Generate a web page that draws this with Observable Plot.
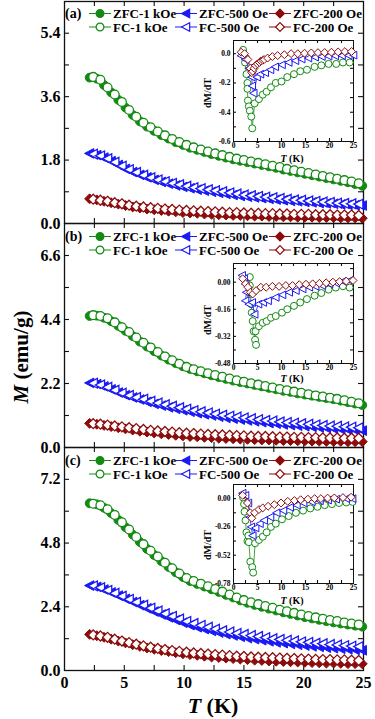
<!DOCTYPE html>
<html><head><meta charset="utf-8">
<script src="https://cdn.jsdelivr.net/npm/d3@7"></script>
<script src="https://cdn.jsdelivr.net/npm/@observablehq/plot@0.6"></script>
<style>
body{margin:0;background:#fff;}
#chart{position:relative;width:375px;height:719px;overflow:hidden;font-family:"Liberation Serif","Times New Roman",serif;font-weight:bold;color:#000;}
#chart > *{position:absolute;}
</style></head><body><div id="chart"></div>
<script>
// ---------- main-panel temperatures (K) ----------
const T_FC  = [2.4,3.0,3.6,4.2,4.8,5.4,6.0,6.6,7.2,7.8,8.4,9.0,9.6,10.2,10.8,11.4,12.0,12.6,13.2,13.8,14.4,15.0,15.6,16.2,16.8,17.4,18.0,18.6,19.2,19.8,20.4,21.0,21.6,22.2,22.8,23.4,24.0,24.6];
const T_ZFC = [2.1,2.7,3.3,3.9,4.5,5.1,5.7,6.3,6.9,7.5,8.1,8.7,9.3,9.9,10.5,11.1,11.7,12.3,12.9,13.5,14.1,14.7,15.3,15.9,16.5,17.1,17.7,18.3,18.9,19.5,20.1,20.7,21.3,21.9,22.5,23.1,23.7,24.3,24.9];

// ---------- panel (a) M (emu/g) ----------
const a_ZFC_1k  = [4.14,4.11,3.93,3.72,3.51,3.29,3.08,2.90,2.75,2.63,2.51,2.41,2.31,2.23,2.15,2.09,2.03,1.97,1.92,1.87,1.82,1.78,1.74,1.70,1.66,1.62,1.58,1.53,1.49,1.45,1.41,1.37,1.33,1.29,1.25,1.21,1.17,1.12,1.07];
const a_FC_1k   = [4.16,4.08,3.86,3.66,3.45,3.22,3.03,2.86,2.73,2.61,2.50,2.40,2.31,2.23,2.16,2.10,2.04,1.99,1.94,1.89,1.84,1.80,1.76,1.72,1.68,1.64,1.60,1.55,1.51,1.47,1.43,1.39,1.35,1.31,1.27,1.23,1.19,1.14];
const a_ZFC_500 = [1.99,1.94,1.87,1.77,1.66,1.55,1.46,1.38,1.31,1.24,1.18,1.13,1.08,1.04,1.00,0.96,0.93,0.90,0.87,0.84,0.81,0.78,0.76,0.74,0.72,0.70,0.68,0.66,0.64,0.63,0.61,0.60,0.58,0.57,0.56,0.54,0.53,0.52,0.51];
const a_FC_500  = [1.97,1.92,1.84,1.74,1.63,1.53,1.45,1.37,1.30,1.24,1.19,1.14,1.10,1.06,1.02,0.99,0.96,0.93,0.90,0.87,0.84,0.81,0.79,0.77,0.75,0.73,0.71,0.69,0.67,0.66,0.64,0.63,0.61,0.60,0.58,0.57,0.56,0.55];
const a_ZFC_200 = [0.70,0.67,0.63,0.59,0.55,0.51,0.47,0.44,0.41,0.39,0.37,0.35,0.33,0.31,0.30,0.29,0.27,0.26,0.25,0.24,0.23,0.23,0.22,0.21,0.21,0.20,0.20,0.19,0.19,0.18,0.18,0.18,0.17,0.17,0.17,0.16,0.16,0.16,0.15];
const a_FC_200  = [0.69,0.66,0.63,0.59,0.56,0.52,0.49,0.47,0.45,0.43,0.41,0.40,0.38,0.37,0.36,0.35,0.34,0.33,0.32,0.31,0.31,0.30,0.29,0.29,0.28,0.28,0.27,0.27,0.26,0.26,0.26,0.25,0.25,0.25,0.24,0.24,0.24,0.23];

// ---------- panel (b) ----------
const b_ZFC_1k  = [4.52,4.53,4.46,4.34,4.18,4.01,3.83,3.64,3.47,3.31,3.16,3.02,2.90,2.79,2.70,2.62,2.55,2.48,2.42,2.36,2.30,2.25,2.20,2.15,2.10,2.05,2.00,1.95,1.91,1.86,1.82,1.78,1.74,1.70,1.66,1.61,1.56,1.51,1.46];
const b_FC_1k   = [4.55,4.52,4.44,4.30,4.13,3.97,3.78,3.60,3.44,3.28,3.13,3.00,2.88,2.77,2.69,2.62,2.55,2.49,2.43,2.37,2.31,2.26,2.21,2.16,2.11,2.06,2.01,1.97,1.92,1.88,1.83,1.79,1.75,1.71,1.67,1.62,1.57,1.52];
const b_ZFC_500 = [2.22,2.18,2.10,2.00,1.89,1.80,1.72,1.65,1.57,1.50,1.44,1.38,1.33,1.28,1.23,1.18,1.14,1.10,1.06,1.02,0.99,0.96,0.93,0.90,0.87,0.84,0.82,0.79,0.77,0.75,0.73,0.71,0.69,0.67,0.65,0.63,0.61,0.60,0.58];
const b_FC_500  = [2.21,2.15,2.07,1.97,1.87,1.79,1.72,1.66,1.59,1.53,1.47,1.42,1.37,1.32,1.27,1.23,1.19,1.15,1.11,1.08,1.05,1.02,0.99,0.96,0.93,0.91,0.88,0.86,0.84,0.82,0.80,0.78,0.76,0.74,0.73,0.71,0.70,0.68];
const b_ZFC_200 = [0.83,0.80,0.76,0.72,0.68,0.64,0.60,0.56,0.53,0.50,0.47,0.45,0.42,0.40,0.38,0.37,0.35,0.34,0.32,0.31,0.30,0.29,0.28,0.27,0.26,0.26,0.25,0.24,0.24,0.23,0.23,0.22,0.22,0.21,0.21,0.21,0.20,0.20,0.20];
const b_FC_200  = [0.82,0.80,0.77,0.74,0.71,0.68,0.65,0.62,0.59,0.57,0.55,0.53,0.51,0.49,0.48,0.46,0.45,0.44,0.43,0.42,0.41,0.40,0.39,0.38,0.38,0.37,0.36,0.36,0.35,0.35,0.34,0.34,0.33,0.33,0.33,0.32,0.32,0.32];

// ---------- panel (c) ----------
const c_ZFC_1k  = [6.30,6.26,6.13,5.93,5.67,5.40,5.12,4.84,4.58,4.35,4.12,3.90,3.70,3.52,3.37,3.26,3.16,3.06,2.96,2.85,2.75,2.64,2.55,2.47,2.40,2.33,2.26,2.19,2.13,2.07,2.01,1.96,1.91,1.86,1.81,1.77,1.73,1.69,1.65];
const c_FC_1k   = [6.28,6.22,6.07,5.86,5.58,5.31,5.03,4.76,4.51,4.29,4.06,3.85,3.65,3.48,3.37,3.27,3.17,3.07,2.97,2.86,2.75,2.65,2.57,2.50,2.43,2.36,2.29,2.23,2.17,2.11,2.05,2.00,1.95,1.90,1.86,1.81,1.77,1.73];
const c_ZFC_500 = [3.20,3.15,3.05,2.94,2.82,2.70,2.58,2.46,2.34,2.22,2.11,2.00,1.90,1.80,1.71,1.63,1.56,1.49,1.43,1.37,1.32,1.27,1.22,1.18,1.14,1.10,1.06,1.03,1.00,0.97,0.94,0.91,0.89,0.86,0.84,0.82,0.80,0.78,0.76];
const c_FC_500  = [3.19,3.12,3.02,2.91,2.80,2.68,2.57,2.46,2.35,2.24,2.14,2.04,1.94,1.85,1.77,1.70,1.63,1.56,1.50,1.45,1.40,1.36,1.32,1.28,1.24,1.20,1.17,1.14,1.11,1.08,1.06,1.03,1.01,0.98,0.96,0.94,0.92,0.90];
const c_ZFC_200 = [1.36,1.31,1.25,1.18,1.11,1.04,0.97,0.91,0.85,0.80,0.75,0.71,0.67,0.63,0.60,0.57,0.54,0.51,0.49,0.47,0.45,0.43,0.41,0.39,0.38,0.36,0.35,0.34,0.33,0.32,0.31,0.30,0.29,0.28,0.28,0.27,0.26,0.26,0.25];
const c_FC_200  = [1.34,1.30,1.25,1.18,1.11,1.05,0.99,0.93,0.88,0.83,0.79,0.75,0.72,0.69,0.66,0.64,0.62,0.60,0.58,0.56,0.54,0.53,0.51,0.50,0.49,0.48,0.47,0.46,0.45,0.44,0.43,0.42,0.41,0.41,0.40,0.40,0.39,0.38];

// ---------- insets dM/dT ----------
const ins_a_T_1k  = [2.0,2.3,2.4,2.7,2.9,2.9,3.0,3.2,3.4,3.7,3.9,4.4,5.3,6.1,6.9,7.8,8.8,10.0,11.2,12.6,13.9,15.3,16.9,18.3,19.8,21.4,22.8,24.2];
const ins_a_1k    = [0.026,-0.02,-0.06,-0.14,-0.20,-0.24,-0.32,-0.36,-0.39,-0.43,-0.51,-0.34,-0.31,-0.28,-0.26,-0.23,-0.20,-0.19,-0.16,-0.14,-0.12,-0.11,-0.09,-0.08,-0.07,-0.07,-0.06,-0.06];
const ins_a_T_500 = [1.6,2.5,3.2,3.8,3.9,4.2,4.9,5.6,6.6,7.7,8.7,10.1,11.5,12.9,14.2,15.6,17.0,18.4,19.8,21.2,22.6,24.0,25.0];
const ins_a_500   = [-0.014,-0.04,-0.10,-0.16,-0.22,-0.27,-0.16,-0.14,-0.13,-0.11,-0.09,-0.076,-0.06,-0.048,-0.037,-0.03,-0.024,-0.02,-0.017,-0.015,-0.013,-0.012,-0.01];
const ins_a_T_200 = [1.6,2.3,3.0,3.5,3.8,4.0,4.3,4.6,5.0,5.4,5.7,6.1,6.4,7.1,8.1,9.2,10.6,12.0,13.4,14.8,16.2,17.6,19.0,20.4,21.8,23.2,24.6];
const ins_a_200   = [0.01,0.0,-0.04,-0.10,-0.13,-0.12,-0.10,-0.08,-0.07,-0.06,-0.05,-0.045,-0.04,-0.03,-0.02,-0.013,-0.007,0.0,0.0,0.003,0.005,0.007,0.008,0.01,0.012,0.014,0.015];

const ins_b_T_1k  = [3.4,3.4,3.5,3.7,3.8,4.0,4.2,4.5,4.7,4.6,5.3,6.1,6.9,7.8,8.8,10.1,11.2,12.6,13.9,15.3,16.9,18.3,19.8,21.3,22.8,24.2];
const ins_b_1k    = [0.03,-0.02,-0.07,-0.13,-0.18,-0.23,-0.29,-0.34,-0.37,-0.29,-0.26,-0.24,-0.23,-0.21,-0.20,-0.18,-0.16,-0.14,-0.12,-0.10,-0.08,-0.064,-0.044,-0.032,-0.024,-0.032];
const ins_b_T_500 = [1.8,2.2,2.5,2.7,2.5,3.2,3.9,4.4,5.2,6.2,7.2,8.8,10.2,11.6,13.0,14.4,15.8,17.1,18.5,20.0,21.4,22.8,24.2];
const ins_b_500   = [0.04,0.02,-0.01,-0.06,-0.11,-0.13,-0.12,-0.19,-0.13,-0.12,-0.11,-0.09,-0.075,-0.06,-0.05,-0.04,-0.03,-0.025,-0.02,-0.01,-0.005,0.005,0.01];
const ins_b_T_200 = [1.9,2.5,3.0,3.5,4.0,4.7,5.7,6.8,8.1,9.5,10.9,12.3,13.7,15.1,16.5,17.9,19.3,20.7,22.1,23.5,24.9];
const ins_b_200   = [0.02,-0.01,-0.03,-0.06,-0.07,-0.05,-0.03,-0.03,-0.025,-0.025,-0.02,-0.02,-0.015,-0.012,-0.01,-0.007,-0.004,0.0,0.003,0.006,0.01];

const ins_c_T_1k  = [2.0,2.2,2.3,2.5,2.7,2.9,3.1,3.2,3.5,3.9,4.1,4.5,5.3,6.1,6.9,7.8,8.8,10.1,11.5,13.0,14.5,16.0,17.5,19.0,20.5,22.0,23.5,24.8];
const ins_c_1k    = [0.01,-0.05,-0.12,-0.20,-0.31,-0.39,-0.34,-0.40,-0.58,-0.63,-0.68,-0.41,-0.38,-0.35,-0.31,-0.26,-0.23,-0.19,-0.16,-0.13,-0.11,-0.09,-0.075,-0.06,-0.05,-0.04,-0.035,-0.03];
const ins_c_T_500 = [1.9,2.5,3.1,3.4,3.7,4.0,4.6,5.5,6.4,7.7,9.0,10.4,11.8,13.2,14.6,16.3,18.0,19.7,21.4,23.5,24.8];
const ins_c_500   = [0.05,0.03,-0.04,-0.17,-0.26,-0.34,-0.27,-0.23,-0.20,-0.17,-0.13,-0.11,-0.08,-0.06,-0.04,-0.03,-0.02,-0.013,-0.005,0.0,0.0];
const ins_c_T_200 = [1.9,2.9,3.5,3.8,4.4,5.3,6.1,7.2,8.5,9.9,11.3,12.7,14.0,15.5,16.9,18.2,19.6,21.0,22.8,24.5];
const ins_c_200   = [0.03,-0.04,-0.13,-0.18,-0.13,-0.10,-0.085,-0.07,-0.055,-0.04,-0.025,-0.018,-0.01,-0.005,0.0,0.0,0.005,0.007,0.01,0.013];

// ---------- labels and ticks ----------
const panelTags  = ["(a)","(b)","(c)"];
const zfcLabels  = ["ZFC-1 kOe","ZFC-500 Oe","ZFC-200 Oe"];
const fcLabels   = ["FC-1 kOe","FC-500 Oe","FC-200 Oe"];
const yTicksA = [0,1.8,3.6,5.4], yTicksB = [0,2.2,4.4,6.6], yTicksC = [0,2.4,4.8,7.2];
const xTickLabels = [0,5,10,15,20,25];
const insTicksA = [-0.6,-0.4,-0.2,0], insTicksB = [-0.48,-0.32,-0.16,0], insTicksC = [-0.78,-0.52,-0.26,0];

const GREEN = "#148a14", BLUE = "#1a1af5", RED = "#8c0c0c";
const FONT = "'Liberation Serif','Times New Roman',serif";

// custom symbols
const symCircle = d3.symbolCircle;
const symTriLeft = {draw(ctx, size){ const r = Math.sqrt(size/Math.PI);
  ctx.moveTo(-1.15*r, 0); ctx.lineTo(0.95*r, -1.1*r); ctx.lineTo(0.95*r, 1.1*r); ctx.closePath(); }};
const symDiamond = {draw(ctx, size){ const r = Math.sqrt(size/Math.PI)*1.13;
  ctx.moveTo(0,-r); ctx.lineTo(r,0); ctx.lineTo(0,r); ctx.lineTo(-r,0); ctx.closePath(); }};
const SYMS = [symCircle, symTriLeft, symDiamond];
const COLORS = [GREEN, BLUE, RED];

const chart = document.getElementById("chart");
const rows = (T, v) => T.map((t, i) => ({T: t, M: v[i]}));

function tickMarks(xMax, yMin, yMax, yVals, plotW, plotH, len, xMin){
  const ly = len*(yMax-yMin)/plotH, lx = len*(xMax-xMin)/plotW;
  const xv = d3.range(1, 10).map(k => k*2.5);
  const o = {stroke:"#111", strokeWidth:1.1};
  return [
    Plot.ruleX(xv, {x:d=>d, y1:()=>yMin, y2:()=>yMin+ly, ...o}),
    Plot.ruleX(xv, {x:d=>d, y1:()=>yMax, y2:()=>yMax-ly, ...o}),
    Plot.ruleY(yVals, {y:d=>d, x1:()=>xMin, x2:()=>xMin+lx, ...o}),
    Plot.ruleY(yVals, {y:d=>d, x1:()=>xMax, x2:()=>xMax-lx, ...o})
  ];
}

function mainPanel({top, mTop, plotH, mBottom, yMax, yTicks, zfc, fc, showX}){
  const W = 375, mL = 64, mR = 12;
  const step = yTicks[1];
  const yVals = d3.range(1, Math.round(yMax/(step/2))).map(k => +(k*step/2).toFixed(3));
  const marks = [
    Plot.frame({stroke:"#111", strokeWidth:1.3}),
    ...tickMarks(25, 0, yMax, yVals, W-mL-mR, plotH, 5, 0),
    Plot.axisY(yTicks, {tickSize:0, tickPadding:4, tickFormat:d=>d.toFixed(1), label:null, fontSize:16})
  ];
  if (showX) marks.push(Plot.axisX(xTickLabels, {tickSize:0, tickPadding:6, tickFormat:d=>String(d), label:null, fontSize:16}));
  for (let k = 0; k < 3; k++){
    const z = rows(T_ZFC, zfc[k]), f = rows(T_FC, fc[k]);
    marks.push(
      Plot.line(z, {x:"T", y:"M", stroke:COLORS[k], strokeWidth:1}),
      Plot.dot(z, {x:"T", y:"M", symbol:SYMS[k], r:4.4, fill:COLORS[k], stroke:COLORS[k], strokeWidth:1}),
      Plot.line(f, {x:"T", y:"M", stroke:COLORS[k], strokeWidth:1}),
      Plot.dot(f, {x:"T", y:"M", symbol:SYMS[k], r:4.4, fill:"white", stroke:COLORS[k], strokeWidth:1.3})
    );
  }
  const svg = Plot.plot({
    width:W, height:mTop+plotH+mBottom, marginTop:mTop, marginBottom:mBottom, marginLeft:mL, marginRight:mR,
    x:{domain:[0,25], label:null, axis: showX ? undefined : null},
    y:{domain:[0,yMax], label:null},
    style:`background:transparent;font-family:${FONT};font-weight:bold;font-size:16px;color:#000;overflow:visible;`,
    marks
  });
  svg.style.left = "0px"; svg.style.top = top + "px";
  chart.append(svg);
}

function insetPanel({top, plotH, yDomain, yTicks, fmt, series}){
  const W = 152, mL = 28, mR = 4, mTop = 2, mBottom = 14;
  const step = yTicks[1]-yTicks[0];
  const yVals = [];
  for (let i = 0; i < yTicks.length; i++){ yVals.push(yTicks[i]); yVals.push(+(yTicks[i]+step/2).toFixed(3)); }
  const vals = yVals.filter(v => v > yDomain[0]+1e-6 && v < yDomain[1]-1e-6);
  const marks = [
    Plot.frame({fill:"white", stroke:"#111", strokeWidth:1}),
    ...tickMarks(25, yDomain[0], yDomain[1], vals, W-mL-mR, plotH, 3, 0),
    Plot.axisY(yTicks, {tickSize:0, tickPadding:3, tickFormat:fmt, label:null, fontSize:7.5}),
    Plot.axisX(xTickLabels, {tickSize:0, tickPadding:1.5, tickFormat:d=>String(d), label:null, fontSize:7.5})
  ];
  series.forEach(([T, v, k]) => {
    const d = T.map((t, i) => ({T:t, D:v[i]}));
    marks.push(
      Plot.line(d, {x:"T", y:"D", stroke:COLORS[k], strokeWidth:0.8}),
      Plot.dot(d, {x:"T", y:"D", symbol:SYMS[k], r:3.5, fill:"white", stroke:COLORS[k], strokeWidth:1})
    );
  });
  const svg = Plot.plot({
    width:W, height:mTop+plotH+mBottom, marginTop:mTop, marginBottom:mBottom, marginLeft:mL, marginRight:mR,
    x:{domain:[0,25], label:null}, y:{domain:yDomain, label:null},
    style:`background:transparent;font-family:${FONT};font-weight:bold;font-size:7.5px;color:#000;overflow:visible;`,
    marks
  });
  svg.style.left = (233-mL) + "px"; svg.style.top = (top-mTop) + "px";
  chart.append(svg);
}

function legend(top, tag){
  const svg = d3.create("svg").attr("width",375).attr("height",36)
    .style("left","0px").style("top", top+"px").style("overflow","visible")
    .style("font-family", FONT).style("font-weight","bold");
  const ry = [13.5, 27];
  svg.append("text").attr("x",65).attr("y",ry[0]).attr("dy","0.35em").attr("font-size",14).text(tag);
  const xs = [100, 186, 280], tx = [113, 199, 293];
  [zfcLabels, fcLabels].forEach((labs, r) => {
    for (let k = 0; k < 3; k++){
      svg.append("line").attr("x1",xs[k]-11).attr("x2",xs[k]+11).attr("y1",ry[r]).attr("y2",ry[r])
        .attr("stroke",COLORS[k]).attr("stroke-width",1);
      svg.append("path").attr("d", d3.symbol(SYMS[k], Math.PI*15)())
        .attr("transform",`translate(${xs[k]},${ry[r]})`)
        .attr("fill", r === 0 ? COLORS[k] : "white").attr("stroke",COLORS[k]).attr("stroke-width",1.2);
      svg.append("text").attr("x",tx[k]).attr("y",ry[r]).attr("dy","0.35em").attr("font-size",13).text(labs[k]);
    }
  });
  chart.append(svg.node());
}

function label(html, x, y, size, rot){
  const d = document.createElement("div");
  d.innerHTML = html;
  d.style.cssText = `left:${x}px;top:${y}px;font-size:${size}px;white-space:nowrap;line-height:1;transform:translate(-50%,-50%)${rot ? " rotate(-90deg)" : ""};`;
  chart.append(d);
}

// main panels
mainPanel({top:0,   mTop:1, plotH:222, mBottom:1,  yMax:6.3, yTicks:yTicksA,
  zfc:[a_ZFC_1k,a_ZFC_500,a_ZFC_200], fc:[a_FC_1k,a_FC_500,a_FC_200], showX:false});
mainPanel({top:222, mTop:1, plotH:224, mBottom:1,  yMax:7.7, yTicks:yTicksB,
  zfc:[b_ZFC_1k,b_ZFC_500,b_ZFC_200], fc:[b_FC_1k,b_FC_500,b_FC_200], showX:false});
mainPanel({top:446, mTop:1, plotH:223, mBottom:49, yMax:8.4, yTicks:yTicksC,
  zfc:[c_ZFC_1k,c_ZFC_500,c_ZFC_200], fc:[c_FC_1k,c_FC_500,c_FC_200], showX:true});

// insets
insetPanel({top:40,  plotH:101, yDomain:[-0.6,0.09],  yTicks:insTicksA, fmt:d=>d.toFixed(1),
  series:[[ins_a_T_1k,ins_a_1k,0],[ins_a_T_500,ins_a_500,1],[ins_a_T_200,ins_a_200,2]]});
insetPanel({top:263, plotH:100, yDomain:[-0.48,0.11], yTicks:insTicksB, fmt:d=>d.toFixed(2),
  series:[[ins_b_T_1k,ins_b_1k,0],[ins_b_T_500,ins_b_500,1],[ins_b_T_200,ins_b_200,2]]});
insetPanel({top:484, plotH:99,  yDomain:[-0.78,0.13], yTicks:insTicksC, fmt:d=>d.toFixed(2),
  series:[[ins_c_T_1k,ins_c_1k,0],[ins_c_T_500,ins_c_500,1],[ins_c_T_200,ins_c_200,2]]});

// legends
legend(0, panelTags[0]);
legend(223, panelTags[1]);
legend(447, panelTags[2]);

// axis titles
label("<i>M</i> (emu/g)", 21, 357, 21, true);
label("<i>T</i> (K)", 213, 706, 22, false);
[[93,159],[320,379],[545,601]].forEach(([dy, ty]) => {
  label("dM/dT", 208, dy, 10, true);
  label("<i>T</i> (K)", 292, ty, 10, false);
});
</script></body></html>
